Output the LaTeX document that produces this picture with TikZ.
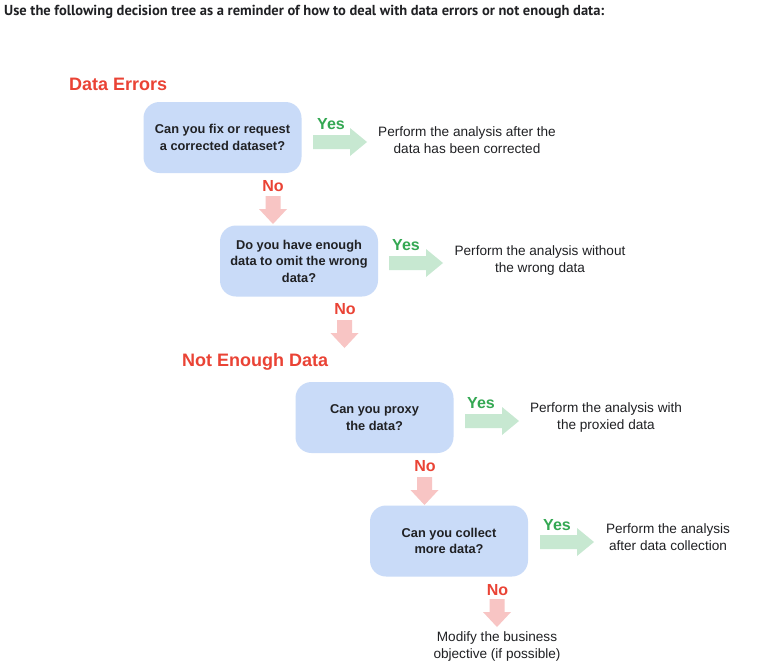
\documentclass[tikz,border=0pt]{standalone}
\usepackage{fontspec}
\setmainfont{Liberation Sans}
\newfontfamily\hdrfont{PT Sans}
\definecolor{boxblue}{RGB}{201,219,248}
\definecolor{yesfill}{RGB}{199,232,209}
\definecolor{nofill}{RGB}{248,197,196}
\definecolor{yesgreen}{RGB}{52,168,83}
\definecolor{nored}{RGB}{234,67,53}
\definecolor{inkdark}{RGB}{32,33,36}
\tikzset{
  qbox/.style={fill=boxblue, rounded corners=16pt, minimum width=158pt, minimum height=71pt,
    align=center, inner sep=0pt, text=inkdark, font=\bfseries\fontsize{12.8}{16.5}\selectfont},
  res/.style={align=center, inner sep=0pt, text=inkdark, font=\fontsize{13.6}{17}\selectfont},
  yeslab/.style={text=yesgreen, inner sep=0pt, font=\bfseries\fontsize{16}{16}\selectfont},
  nolab/.style={text=nored, inner sep=0pt, font=\bfseries\fontsize{16}{16}\selectfont},
  sect/.style={text=nored, anchor=west, inner sep=0pt, font=\bfseries\fontsize{18}{18}\selectfont},
  rarr/.pic={\fill[yesfill] (0,-7) -- (37,-7) -- (37,-14) -- (54,0) -- (37,14) -- (37,7) -- (0,7) -- cycle;},
  darr/.pic={\fill[nofill] (-7.5,0) -- (7.5,0) -- (7.5,13) -- (14,13) -- (0,28) -- (-14,13) -- (-7.5,13) -- cycle;}
}
\begin{document}
\begin{tikzpicture}[x=1pt,y=-1pt]
\useasboundingbox[fill=white] (0,0) rectangle (760,664);
\node[anchor=west, inner sep=0pt, text=inkdark, font=\hdrfont\bfseries\fontsize{14.5}{16}\selectfont] (hdr) at (4,12)
  {Use the following decision tree as a reminder of how to deal with data errors or not enough data:};

\node[sect] (sec1) at (69,84) {Data Errors};
\node[sect] (sec2) at (182,362) {Not Enough Data};

\node[qbox] (q1) at (222.5,137.5) {Can you fix or request\\a corrected dataset?};
\node[qbox] (q2) at (299,261) {Do you have enough\\data to omit the wrong\\data?};
\node[qbox] (q3) at (374.5,417.5) {Can you proxy\\the data?};
\node[qbox] (q4) at (449,541) {Can you collect\\more data?};

\pic at (313,142) {rarr};
\pic at (389,263) {rarr};
\pic at (465,421) {rarr};
\pic at (540,542) {rarr};

\pic at (273,196) {darr};
\pic at (344.5,320) {darr};
\pic at (424.5,477) {darr};
\pic at (497,599) {darr};

\node[yeslab] (y1) at (331,124) {Yes};
\node[yeslab] (y2) at (406,245) {Yes};
\node[yeslab] (y3) at (481,403) {Yes};
\node[yeslab] (y4) at (557,525) {Yes};

\node[nolab] (n1) at (273,186) {No};
\node[nolab] (n2) at (345,309) {No};
\node[nolab] (n3) at (425,466) {No};
\node[nolab] (n4) at (497.5,590) {No};

\node[res] (r1) at (467,140) {Perform the analysis after the\\data has been corrected};
\node[res] (r2) at (540,260) {Perform the analysis without\\the wrong data};
\node[res] (r3) at (606,417) {Perform the analysis with\\the proxied data};
\node[res] (r4) at (668,537) {Perform the analysis\\after data collection};
\node[res] (r5) at (497,646) {Modify the business\\objective (if possible)};
\end{tikzpicture}
\end{document}
